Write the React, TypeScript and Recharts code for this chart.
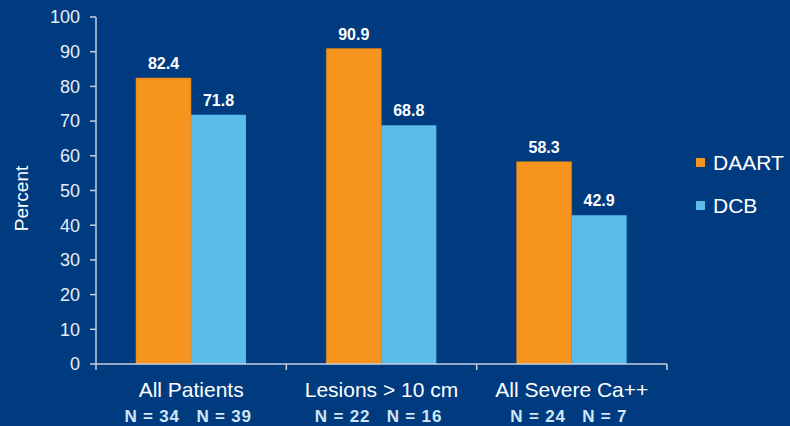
import { BarChart, Bar, XAxis, YAxis, LabelList, Label } from "recharts";

const categories = ["All Patients", "Lesions > 10 cm", "All Severe Ca++"];
const daart = [82.4, 90.9, 58.3];
const dcb = [71.8, 68.8, 42.9];
const nDaart = [34, 22, 24];
const nDcb = [39, 16, 7];
const yTicks = [0, 10, 20, 30, 40, 50, 60, 70, 80, 90, 100];

const data = categories.map((name, i) => ({
  name,
  DAART: daart[i],
  DCB: dcb[i],
  nA: nDaart[i],
  nB: nDcb[i],
}));

const BG = "#003b7f";
const ORANGE = "#f7941e";
const BLUE = "#5bbbea";
const AXIS = "#c5cfdc";
const FONT = "'Liberation Sans', Arial, sans-serif";

function CategoryTick(props: any) {
  const { x, y, payload, index } = props;
  const half = payload?.offset || 95;
  const row = data[index] || data[0];
  return (
    <g>
      <line x1={x - half} y1={y - 8} x2={x - half} y2={y - 2} stroke={AXIS} strokeWidth={1.5} />
      {index === data.length - 1 && (
        <line x1={x + half} y1={y - 8} x2={x + half} y2={y - 2} stroke={AXIS} strokeWidth={1.5} />
      )}
      <text x={x} y={y + 25} textAnchor="middle" fill="#ffffff" fontSize={21} fontFamily={FONT}>
        {payload.value}
      </text>
      <text
        x={x - 3}
        y={y + 50}
        textAnchor="middle"
        fill="#cfe6f7"
        fontSize={17}
        fontWeight="bold"
        letterSpacing={0.8}
        fontFamily={FONT}
        style={{ whiteSpace: "pre" }}
      >
        {`N = ${row.nA}   N = ${row.nB}`}
      </text>
    </g>
  );
}

function PercentLabel(props: any) {
  const vb = props.viewBox || { y: 17, height: 347 };
  const cy = vb.y + vb.height / 2 + 8;
  return (
    <text
      x={28}
      y={cy}
      transform={`rotate(-90, 28, ${cy})`}
      textAnchor="middle"
      fill="#ffffff"
      fontSize={19}
      fontFamily={FONT}
    >
      Percent
    </text>
  );
}

function LegendBox() {
  const items = [
    { label: "DAART", color: ORANGE },
    { label: "DCB", color: BLUE },
  ];
  return (
    <div style={{ position: "absolute", left: 696, top: 141, fontFamily: FONT }}>
      {items.map((it) => (
        <div key={it.label} style={{ display: "flex", alignItems: "center", height: 43 }}>
          <span style={{ width: 9, height: 9, background: it.color, display: "inline-block", marginRight: 8 }} />
          <span style={{ color: "#ffffff", fontSize: 21 }}>{it.label}</span>
        </div>
      ))}
    </div>
  );
}

export default function App() {
  return (
    <div style={{ position: "absolute", left: 0, top: 0, width: 790, height: 426, background: BG }}>
      <BarChart
        width={790}
        height={426}
        data={data}
        margin={{ top: 17, right: 123, bottom: 0, left: 8 }}
        barCategoryGap="21%"
        barGap={0}
      >
        <XAxis
          dataKey="name"
          axisLine={{ stroke: AXIS, strokeWidth: 1.5 }}
          tickLine={false}
          tick={<CategoryTick />}
          interval={0}
          height={62}
        />
        <YAxis
          domain={[0, 100]}
          ticks={yTicks}
          interval={0}
          width={88}
          axisLine={{ stroke: AXIS, strokeWidth: 1.5 }}
          tickLine={{ stroke: AXIS, strokeWidth: 1.5 }}
          tickSize={6}
          tickMargin={10}
          tick={{ fill: "#e8eef6", fontSize: 18, fontFamily: FONT }}
        >
          <Label content={<PercentLabel />} position="insideLeft" />
        </YAxis>
        <Bar dataKey="DAART" fill={ORANGE} stroke="#d27e1a" strokeWidth={0.6} isAnimationActive={false}>
          <LabelList
            dataKey="DAART"
            position="top"
            offset={9}
            fill="#ffffff"
            fontSize={16}
            fontWeight="bold"
            fontFamily={FONT}
          />
        </Bar>
        <Bar dataKey="DCB" fill={BLUE} isAnimationActive={false}>
          <LabelList
            dataKey="DCB"
            position="top"
            offset={9}
            fill="#ffffff"
            fontSize={16}
            fontWeight="bold"
            fontFamily={FONT}
          />
        </Bar>
      </BarChart>
      <LegendBox />
    </div>
  );
}
